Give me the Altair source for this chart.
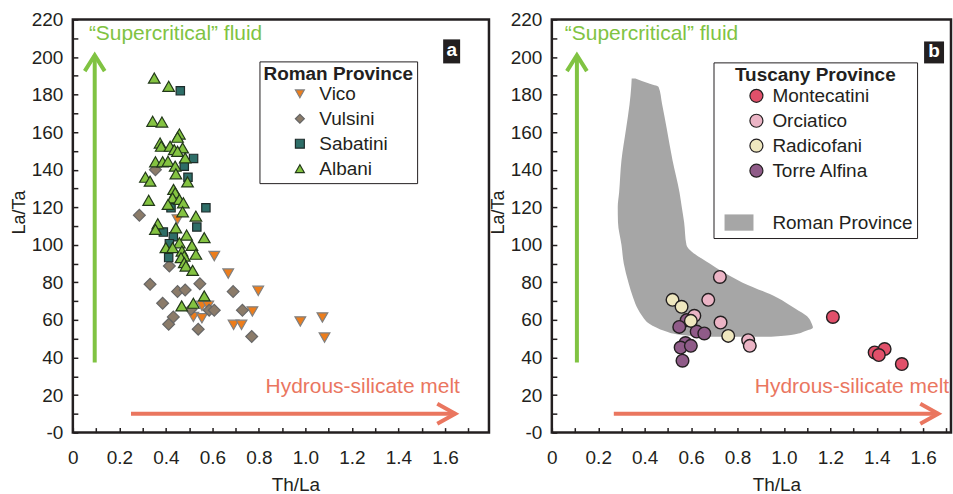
import altair as alt
import pandas as pd

FONT = "Liberation Sans"
INK = "#231f20"
GREEN = "#80c342"
SALMON = "#ea765f"

# ---------------- Panel a : Roman Province ----------------
groups_a = ["Vico", "Vulsini", "Sabatini", "Albani"]
fill_a = ["#ec7d1c", "#8b7b69", "#2e6e68", "#84c341"]
stroke_a = ["#808080", "#666666", "#1e2b2a", "#22381a"]
shape_a = ["triangle-down", "diamond", "square", "triangle-up"]

vico_x = [0.450, 0.608, 0.668, 0.797, 0.555, 0.582, 0.518, 0.555, 0.772, 0.691, 0.725, 0.978, 1.073, 1.082]
vico_y = [113.5, 94.0, 84.7, 75.5, 67.5, 67.5, 61.6, 60.9, 64.5, 57.4, 57.4, 59.2, 61.3, 50.6]

vulsini_x = [0.286, 0.355, 0.415, 0.332, 0.450, 0.483, 0.546, 0.689, 0.386, 0.508, 0.586, 0.608,
             0.432, 0.412, 0.539, 0.729, 0.769]
vulsini_y = [115.8, 140.0, 88.7, 79.0, 75.1, 76.0, 79.3, 75.1, 68.9, 65.7, 65.2, 65.2,
             61.6, 57.7, 55.1, 65.2, 51.2]

sabatini_x = [0.462, 0.519, 0.479, 0.495, 0.422, 0.572, 0.533, 0.389, 0.432, 0.415, 0.412]
sabatini_y = [182.0, 146.0, 141.9, 136.0, 119.7, 119.7, 109.5, 106.8, 104.3, 100.6, 93.2]

albani_x = [0.350, 0.412, 0.343, 0.383, 0.458, 0.450, 0.375, 0.380, 0.418, 0.436, 0.472, 0.450,
            0.483, 0.355, 0.386, 0.409, 0.440, 0.443, 0.312, 0.332, 0.493, 0.433, 0.440, 0.429,
            0.326, 0.458, 0.475, 0.409, 0.472, 0.529, 0.365, 0.355, 0.443, 0.489, 0.565, 0.458,
            0.400, 0.429, 0.512, 0.469, 0.529, 0.479, 0.465, 0.479, 0.486, 0.515, 0.468, 0.518, 0.565]
albani_y = [188.8, 184.4, 165.8, 165.4, 159.0, 157.3, 154.2, 152.5, 152.5, 150.7, 151.6, 149.8,
            146.3, 144.2, 144.2, 144.5, 141.9, 137.8, 136.0, 133.9, 133.5, 129.5, 127.7, 125.0,
            123.7, 124.2, 122.4, 121.5, 117.6, 115.3, 111.2, 108.2, 109.0, 105.2, 103.8, 101.1,
            98.5, 98.5, 99.7, 96.7, 95.0, 94.0, 93.2, 90.5, 88.7, 86.4, 67.5, 68.9, 72.8]
marker_size_a = [115, 140, 70, 135]

# ---------------- Panel b : Tuscany Province ----------------
groups_b = ["Montecatini", "Orciatico", "Radicofani", "Torre Alfina", " ", "Roman Province"]
fill_b = ["#e1506a", "#ebb4c5", "#efe7bf", "#8f5b88", "transparent", "#a6a6a6"]
stroke_b = [INK, INK, INK, INK, "transparent", "transparent"]
ROMAN_KEY = "M-4.9,-1.25L-0.45,-1.25L-0.45,1.25L-4.9,1.25Z"
shape_b = ["circle", "circle", "circle", "circle", "circle", ROMAN_KEY]

montecatini_x = [1.211, 1.391, 1.434, 1.409, 1.508]
montecatini_y = [61.6, 42.7, 44.5, 41.3, 36.5]
orciatico_x = [0.724, 0.674, 0.614, 0.727, 0.846, 0.853]
orciatico_y = [82.9, 70.7, 62.2, 58.6, 49.2, 46.2]
radicofani_x = [0.520, 0.559, 0.599, 0.760]
radicofani_y = [70.7, 67.0, 59.5, 51.5]
torre_x = [0.581, 0.549, 0.624, 0.657, 0.576, 0.555, 0.599, 0.563]
torre_y = [59.9, 56.3, 53.8, 52.8, 47.7, 45.3, 46.2, 38.3]

# Roman Province field outline (horizontal slices)
field_y = [51, 52, 54, 56, 58, 62, 66, 72, 80, 90, 100, 112, 120, 128, 145, 162, 175, 184, 186, 188.6]
field_left = [0.65, 0.56, 0.49, 0.45, 0.42, 0.39, 0.37, 0.35, 0.33, 0.31, 0.30, 0.285, 0.284, 0.29,
              0.30, 0.32, 0.335, 0.342, 0.343, 0.344]
field_right = [0.93, 1.03, 1.09, 1.125, 1.12, 1.10, 1.05, 0.97, 0.82, 0.68, 0.58, 0.57, 0.56, 0.55,
               0.52, 0.495, 0.475, 0.46, 0.416, 0.36]

# ---------------- Axes ----------------
x_ticks = [0, 0.1, 0.2, 0.3, 0.4, 0.5, 0.6, 0.7, 0.8, 0.9, 1.0, 1.1, 1.2, 1.3, 1.4, 1.5, 1.6, 1.7]
y_ticks = [0, 10, 20, 30, 40, 50, 60, 70, 80, 90, 100, 110, 120, 130, 140, 150, 160, 170, 180,
           190, 200, 210, 220]
x_domain_a = [0, 1.789]
x_domain_b = [0, 1.72]
y_domain = [0, 220]

# annotations (data coordinates)
green_arrow_a = {"x": 0.094, "y": 37.4, "y2": 201}
green_arrow_b = {"x": 0.108, "y": 37.4, "y2": 201}
red_arrow_a = {"x": 0.25, "x2": 1.644, "y": 10}
red_arrow_b = {"x": 0.267, "x2": 1.665, "y": 10}
fluid_text_a = {"x": 0.069, "y": 209}
fluid_text_b = {"x": 0.056, "y": 209}
melt_text_a = {"x": 1.664, "y": 20.9}
melt_text_b = {"x": 1.712, "y": 20.9}
box_a = {"x": 1.592, "x2": 1.665, "y": 196.6, "y2": 209.4, "label": "a"}
box_b = {"x": 1.604, "x2": 1.690, "y": 196.6, "y2": 208.3, "label": "b"}

UP_HEAD = "M-1,1.6L0,0L1,1.6"
RIGHT_HEAD = "M-1.8,-1L0,0L-1.8,1"


def x_axis(title_x):
    return alt.Axis(
        title="Th/La", values=x_ticks,
        labelExpr="abs(round(datum.value*10)) % 2 == 0 ? (datum.value == 0 ? '0' : format(datum.value, '.1f')) : ''",
        offset=-5, domain=False, grid=False, ticks=True, tickSize=5, tickWidth=1.5, tickColor=INK,
        labelPadding=16, labelFont=FONT, labelFontSize=19, labelColor=INK,
        labelFlush=False, labelOverlap=False,
        titleFont=FONT, titleFontSize=19, titleFontWeight="normal", titleColor=INK,
        titleX=title_x, titleY=63, titleAlign="center", titleBaseline="alphabetic",
    )


def y_axis():
    return alt.Axis(
        title="La/Ta", values=y_ticks,
        labelExpr="datum.value == 0 ? '-0' : (datum.value % 20 == 0 ? format(datum.value, 'd') : '')",
        offset=-5, domain=False, grid=False, ticks=True, tickSize=5, tickWidth=1.5, tickColor=INK,
        labelPadding=10, labelFont=FONT, labelFontSize=19, labelColor=INK,
        labelFlush=False, labelOverlap=False,
        titleFont=FONT, titleFontSize=18, titleFontWeight="normal", titleColor=INK,
        titleX=-58, titleY=193, titleAngle=270, titleAlign="center", titleBaseline="middle",
    )


def make_panel(xdom, title_x, layers_fn):
    sx = alt.Scale(domain=xdom, nice=False, zero=False)
    sy = alt.Scale(domain=y_domain, nice=False, zero=False)
    ax = x_axis(title_x)
    ay = y_axis()

    def X(f):
        return alt.X(f, type="quantitative", scale=sx, axis=ax)

    def Y(f):
        return alt.Y(f, type="quantitative", scale=sy, axis=ay)

    return layers_fn(X, Y)


def annotations(X, Y, garrow, rarrow, ftext, mtext, box):
    g = pd.DataFrame([garrow])
    r = pd.DataFrame([rarrow])
    layers = [
        alt.Chart(g).mark_rule(color=GREEN, strokeWidth=4).encode(x=X("x"), y=Y("y"), y2="y2"),
        alt.Chart(g).mark_point(shape=UP_HEAD, filled=False, stroke=GREEN, strokeWidth=4,
                                size=400, opacity=1).encode(x=X("x"), y=Y("y2")),
        alt.Chart(r).mark_rule(color=SALMON, strokeWidth=4).encode(x=X("x"), x2="x2", y=Y("y")),
        alt.Chart(r).mark_point(shape=RIGHT_HEAD, filled=False, stroke=SALMON, strokeWidth=4,
                                size=400, opacity=1).encode(x=X("x2"), y=Y("y")),
        alt.Chart(pd.DataFrame([{**ftext, "t": "\u201cSupercritical\u201d fluid"}])).mark_text(
            align="left", baseline="alphabetic", font=FONT, fontSize=21, color=GREEN
        ).encode(x=X("x"), y=Y("y"), text="t:N"),
        alt.Chart(pd.DataFrame([{**mtext, "t": "Hydrous-silicate melt"}])).mark_text(
            align="right", baseline="alphabetic", font=FONT, fontSize=21, color=SALMON
        ).encode(x=X("x"), y=Y("y"), text="t:N"),
    ]
    bdf = pd.DataFrame([box])
    bdf["cx"] = (bdf["x"] + bdf["x2"]) / 2
    bdf["cy"] = (bdf["y"] + bdf["y2"]) / 2
    layers.append(alt.Chart(bdf).mark_rect(color=INK).encode(x=X("x"), x2="x2", y=Y("y"), y2="y2"))
    layers.append(alt.Chart(bdf).mark_text(font=FONT, fontSize=19, fontWeight="bold", color="white",
                                           baseline="middle", align="center", dy=-1)
                  .encode(x=X("cx"), y=Y("cy"), text="label:N"))
    return layers


def legend(title, lx, ly, ssize, soff, loff, pad, anchor, tpad):
    return alt.Legend(
        title=title, orient="none", legendX=lx, legendY=ly, padding=pad,
        strokeColor=INK, fillColor="white",
        titleFont=FONT, titleFontSize=19, titleFontWeight="bold", titleColor=INK, titlePadding=tpad,
        titleAnchor=anchor,
        labelFont=FONT, labelFontSize=19, labelColor=INK, labelOffset=loff,
        symbolSize=ssize, symbolStrokeWidth=1.2, symbolOffset=soff, rowPadding=5,
    )


leg_a = legend("Roman Province", 187, 42, 80, 27, 10, 4, "start", 0)
leg_b = legend("Tuscany Province", 162, 43, 170, 29.5, 6.5, 4, "middle", 1)

fill_sc_a = alt.Scale(domain=groups_a, range=fill_a)
shape_sc_a = alt.Scale(domain=groups_a, range=shape_a)
stroke_sc_a = alt.Scale(domain=groups_a, range=stroke_a)

fill_sc_b = alt.Scale(domain=groups_b, range=fill_b)
shape_sc_b = alt.Scale(domain=groups_b, range=shape_b)
stroke_sc_b = alt.Scale(domain=groups_b, range=stroke_b)


def panel_a_layers(X, Y):
    layers = []
    series = [("Vico", vico_x, vico_y), ("Vulsini", vulsini_x, vulsini_y),
              ("Sabatini", sabatini_x, sabatini_y), ("Albani", albani_x, albani_y)]
    for (name, xs, ys), msize in zip(series, marker_size_a):
        df = pd.DataFrame({"x": xs, "y": ys, "group": name})
        layers.append(
            alt.Chart(df).mark_point(filled=True, opacity=1, strokeWidth=1.2, size=msize).encode(
                x=X("x"), y=Y("y"),
                fill=alt.Fill("group:N", scale=fill_sc_a, legend=leg_a),
                shape=alt.Shape("group:N", scale=shape_sc_a, legend=leg_a),
                stroke=alt.Stroke("group:N", scale=stroke_sc_a, legend=leg_a),
            )
        )
    layers += annotations(X, Y, green_arrow_a, red_arrow_a, fluid_text_a, melt_text_a, box_a)
    return alt.layer(*layers).properties(width=417, height=414)


def panel_b_layers(X, Y):
    fdf = pd.DataFrame({"y": field_y, "left": field_left, "right": field_right,
                        "group": "Roman Province"})
    layers = [
        alt.Chart(fdf).mark_area(orient="horizontal", interpolate="monotone", opacity=1).encode(
            y=Y("y"), x=X("left"), x2="right",
            fill=alt.Fill("group:N", scale=fill_sc_b, legend=leg_b),
        )
    ]
    series = [("Torre Alfina", torre_x, torre_y), ("Orciatico", orciatico_x, orciatico_y),
              ("Radicofani", radicofani_x, radicofani_y), ("Montecatini", montecatini_x, montecatini_y)]
    for name, xs, ys in series:
        df = pd.DataFrame({"x": xs, "y": ys, "group": name})
        layers.append(
            alt.Chart(df).mark_point(filled=True, opacity=1, strokeWidth=1.4, size=160).encode(
                x=X("x"), y=Y("y"),
                fill=alt.Fill("group:N", scale=fill_sc_b, legend=leg_b),
                shape=alt.Shape("group:N", scale=shape_sc_b, legend=leg_b),
                stroke=alt.Stroke("group:N", scale=stroke_sc_b, legend=leg_b),
            )
        )
    layers += annotations(X, Y, green_arrow_b, red_arrow_b, fluid_text_b, melt_text_b, box_b)
    return alt.layer(*layers).properties(width=400, height=414)


panel_a = make_panel(x_domain_a, 223, panel_a_layers)
panel_b = make_panel(x_domain_b, 225, panel_b_layers)

chart = (
    alt.hconcat(panel_a, panel_b, spacing=63, bounds="flush")
    .resolve_scale(fill="independent", shape="independent", stroke="independent")
    .properties(padding={"left": 9, "top": 8, "right": 0, "bottom": 0}, background="white")
    .configure(font=FONT)
    .configure_view(stroke=INK, strokeWidth=2.5)
)

chart.save("out.html", embed_options={"renderer": "svg", "actions": False})
